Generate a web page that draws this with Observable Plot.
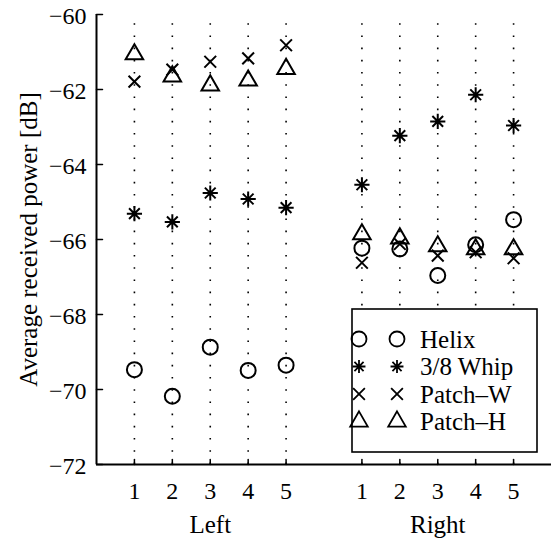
<!DOCTYPE html>
<html>
<head>
<meta charset="utf-8">
<script src="https://cdn.jsdelivr.net/npm/d3@7"></script>
<script src="https://cdn.jsdelivr.net/npm/@observablehq/plot@0.6"></script>
<style>
  html, body { margin: 0; padding: 0; background: white; }
  #chart { width: 551px; height: 541px; }
  #chart svg, #chart svg text { font-family: 'Liberation Serif', 'DejaVu Serif', serif !important; }
</style>
</head>
<body>
<div id="chart"></div>
<script>
// ---- data ----
const positions = [1, 2, 3, 4, 5];
const sides = ["Left", "Right"];
const seriesNames = ["Helix", "3/8 Whip", "Patch\u2013W", "Patch\u2013H"];

const helixLeft   = [-69.47, -70.18, -68.87, -69.49, -69.35];
const helixRight  = [-66.23, -66.25, -66.96, -66.14, -65.47];
const whipLeft    = [-65.31, -65.53, -64.76, -64.92, -65.15];
const whipRight   = [-64.54, -63.23, -62.85, -62.14, -62.96];
const patchWLeft  = [-61.79, -61.47, -61.26, -61.17, -60.82];
const patchWRight = [-66.62, -66.12, -66.43, -66.34, -66.50];
const patchHLeft  = [-61.06, -61.65, -61.89, -61.76, -61.45];
const patchHRight = [-65.86, -65.97, -66.18, -66.26, -66.26];

const yTicks = [-72, -70, -68, -66, -64, -62, -60];

// 8-armed asterisk like MATLAB's '*' marker
const star8 = {
  draw(context, size) {
    const r = Math.sqrt(size / Math.PI);
    const d = r * Math.SQRT1_2;
    context.moveTo(0, -r); context.lineTo(0, r);
    context.moveTo(-r, 0); context.lineTo(r, 0);
    context.moveTo(-d, -d); context.lineTo(d, d);
    context.moveTo(-d, d); context.lineTo(d, -d);
  }
};
const seriesSymbols = [d3.symbolCircle, star8, d3.symbolTimes, d3.symbolTriangle];

// ---- build table ----
const seriesValues = [
  [helixLeft, helixRight],
  [whipLeft, whipRight],
  [patchWLeft, patchWRight],
  [patchHLeft, patchHRight]
];
const sideOffset = (s) => sides.indexOf(s) * 6; // Right group starts after a gap
const data = [];
seriesNames.forEach((name, k) => {
  sides.forEach((side, j) => {
    positions.forEach((p, i) => {
      data.push({series: name, side, pos: p, x: p + sideOffset(side), y: seriesValues[k][j][i]});
    });
  });
});
const xTicks = sides.flatMap(s => positions.map(p => p + sideOffset(s)));
const xTickLabel = new Map(sides.flatMap(s => positions.map(p => [p + sideOffset(s), String(p)])));
const sideCenters = sides.map(s => d3.mean(positions) + sideOffset(s));
const sideLabel = new Map(sides.map(s => [d3.mean(positions) + sideOffset(s), s]));

const markerR = {"Helix": 7.5, "3/8 Whip": 7.6, "Patch\u2013W": 5.4, "Patch\u2013H": 6.5};

const tickShape = {draw(context, l) { context.moveTo(0, 0); context.lineTo(0, -l); }};

const font = "'Liberation Serif', 'DejaVu Serif', serif";

const plot = Plot.plot({
  width: 551,
  height: 541,
  marginLeft: 96,
  marginRight: 0,
  marginTop: 14,
  marginBottom: 77,
  style: `font-family: ${font}; font-size: 24px; background: white; color: black;`,
  x: {domain: [0, 12], axis: null},
  y: {domain: [-72, -60], axis: null},
  marks: [
    // dotted vertical grid
    Plot.ruleX(xTicks, {y1: -72, y2: -60, stroke: "black", strokeWidth: 1.6, strokeDasharray: "1.6 10.6"}),
    // axes lines
    Plot.ruleX([0], {y1: -72, y2: -60, stroke: "black", strokeWidth: 2}),
    Plot.ruleY([-72], {stroke: "black", strokeWidth: 2}),
    // inward ticks
    Plot.vector(yTicks, {x: 0, y: d => d, length: 6, rotate: 90, anchor: "start", shape: tickShape, stroke: "black", strokeWidth: 1.5}),
    Plot.vector(xTicks, {x: d => d, y: -72, length: 5, rotate: 0, anchor: "start", shape: tickShape, stroke: "black", strokeWidth: 1.5}),
    // tick labels
    Plot.axisY(yTicks, {anchor: "left", tickSize: 0, tickPadding: 10, fontSize: 24, fontFamily: font, label: null, dy: 2}),
    Plot.axisX(xTicks, {anchor: "bottom", tickSize: 0, tickPadding: 17, fontSize: 24, fontFamily: font, label: null, tickFormat: d => xTickLabel.get(d)}),
    Plot.axisX(sideCenters, {anchor: "bottom", tickSize: 0, tickPadding: 51, fontSize: 25, fontFamily: font, label: null, tickFormat: d => sideLabel.get(d)}),
    // y label
    Plot.text(["Average received power [dB]"], {frameAnchor: "left", textAnchor: "middle", lineAnchor: "middle", rotate: -90, dx: -68, fontSize: 25, fontFamily: font, fill: "black"}),
    // data
    ...seriesNames.map((name, k) =>
      Plot.dot(data.filter(d => d.series === name), {
        x: "x", y: "y", symbol: seriesSymbols[k], r: markerR[name],
        stroke: "black", strokeWidth: 2, fill: "none"
      })
    )
  ]
});

document.getElementById("chart").appendChild(plot);

// ---- legend (inside the plot, lower right) ----
const svg = d3.select(plot);
const lg = svg.append("g");
lg.append("rect")
  .attr("x", 352).attr("y", 309).attr("width", 185).attr("height", 143)
  .attr("fill", "white").attr("stroke", "black").attr("stroke-width", 1.6);
seriesNames.forEach((name, k) => {
  const yy = 339 + k * 27.5;
  const r = markerR[name] * (k === 1 ? 0.85 : 1);
  const path = d3.symbol(seriesSymbols[k], Math.PI * r * r)();
  [359, 397].forEach(xx => {
    lg.append("path").attr("d", path).attr("transform", `translate(${xx},${yy})`)
      .attr("fill", "none").attr("stroke", "black").attr("stroke-width", 1.8);
  });
  lg.append("text").attr("x", 420).attr("y", yy + 8.5)
    .attr("text-anchor", "start")
    .style("font-family", font).style("font-size", "25px").attr("fill", "black")
    .text(name);
});
</script>
</body>
</html>
